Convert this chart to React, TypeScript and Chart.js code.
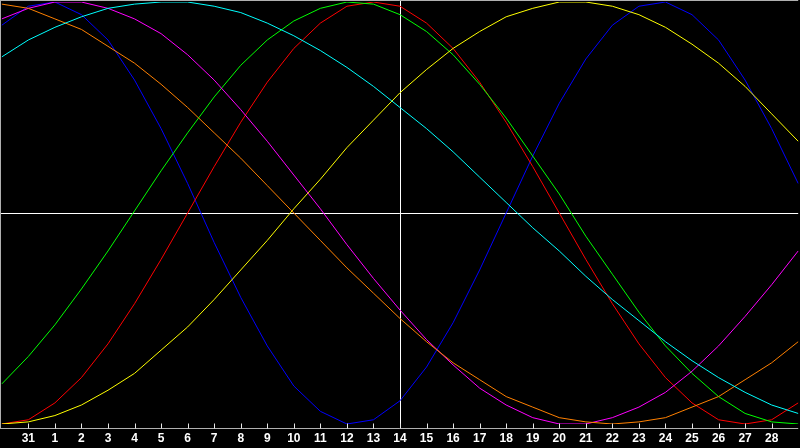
import { useEffect, useRef } from "react";
import { Chart, registerables } from "chart.js";

Chart.register(...registerables);

// day labels, first and last are outside the visible ticks
const days = ["30", "31", "1", "2", "3", "4", "5", "6", "7", "8", "9", "10", "11", "12", "13", "14", "15", "16", "17", "18", "19", "20", "21", "22", "23", "24", "25", "26", "27", "28", "29"];

const blue = [89, 98, 100, 94, 82, 63, 40, 14, -14, -40, -63, -82, -94, -100, -98, -89, -73, -52, -27, 0, 27, 52, 73, 89, 98, 100, 94, 82, 63, 40, 14];
const red = [-100, -98, -90, -78, -62, -43, -22, 0, 22, 43, 62, 78, 90, 98, 100, 98, 90, 78, 62, 43, 22, 0, -22, -43, -62, -78, -90, -98, -100, -98, -90];
const green = [-81, -68, -53, -36, -18, 1, 20, 38, 55, 70, 82, 91, 97, 100, 99, 94, 86, 75, 61, 45, 27, 9, -11, -29, -47, -63, -76, -87, -95, -99, -100];
const yellow = [-100, -99, -96, -91, -84, -76, -65, -54, -41, -27, -13, 2, 16, 31, 44, 57, 68, 78, 86, 93, 97, 100, 100, 98, 94, 88, 80, 71, 60, 47, 34];
const cyan = [74, 82, 88, 93, 97, 99, 100, 100, 98, 95, 90, 84, 77, 69, 60, 50, 40, 29, 17, 5, -7, -18, -30, -41, -51, -61, -70, -78, -85, -91, -95];
const magenta = [92, 97, 100, 100, 97, 92, 85, 75, 63, 49, 34, 18, 2, -15, -31, -46, -60, -72, -83, -91, -97, -100, -100, -97, -92, -85, -75, -63, -49, -34, -18];
const orange = [99, 97, 92, 87, 79, 71, 61, 50, 38, 26, 13, 0, -13, -26, -38, -50, -61, -71, -79, -87, -92, -97, -99, -100, -99, -97, -92, -87, -79, -71, -61];

const todayIndex = 15; // "14"

const frame = {
  id: "frame",
  beforeDraw(chart: any) {
    const { ctx, width, height } = chart;
    ctx.save();
    ctx.fillStyle = "#000";
    ctx.fillRect(0, 0, width, height);
    ctx.restore();
  },
  beforeDatasetsDraw(chart: any) {
    const { ctx, chartArea, scales } = chart;
    const x = scales.x;
    const y = scales.y;
    ctx.save();
    ctx.lineWidth = 1;
    ctx.strokeStyle = "#ffffff";
    const cx = Math.round(x.getPixelForValue(todayIndex)) + 0.5;
    const cy = Math.round(y.getPixelForValue(0)) + 0.5;
    ctx.beginPath();
    ctx.moveTo(cx, 0);
    ctx.lineTo(cx, chartArea.bottom + 4);
    ctx.moveTo(0, cy);
    ctx.lineTo(chartArea.right, cy);
    ctx.stroke();
    ctx.restore();
  },
  afterDraw(chart: any) {
    const { ctx, chartArea, scales } = chart;
    const x = scales.x;
    const axisY = chartArea.bottom + 4.5;
    ctx.save();
    ctx.lineWidth = 1;
    ctx.strokeStyle = "#b0b0b0";
    ctx.beginPath();
    ctx.moveTo(0, 0.5);
    ctx.lineTo(chartArea.right, 0.5);
    ctx.moveTo(0.5, 0);
    ctx.lineTo(0.5, axisY);
    ctx.moveTo(0, axisY);
    ctx.lineTo(chartArea.right, axisY);
    ctx.stroke();
    ctx.strokeStyle = "#e8e8e8";
    ctx.beginPath();
    for (let i = 1; i < days.length - 1; i++) {
      const px = Math.round(x.getPixelForValue(i)) + 0.5;
      ctx.moveTo(px, axisY - 5);
      ctx.lineTo(px, axisY);
    }
    ctx.stroke();
    ctx.restore();
  },
};

const series = [
  { data: cyan, color: "#00ffff" },
  { data: orange, color: "#ff8000" },
  { data: magenta, color: "#ff00ff" },
  { data: yellow, color: "#ffff00" },
  { data: green, color: "#00ff00" },
  { data: red, color: "#ff0000" },
  { data: blue, color: "#0000ff" },
];

export default function App() {
  const ref = useRef<HTMLCanvasElement | null>(null);
  useEffect(() => {
    document.body.style.margin = "0";
    document.body.style.background = "#000";
    if (!ref.current) return;
    const chart = new Chart(ref.current, {
      type: "line",
      data: {
        labels: days,
        datasets: series.map((s) => ({
          data: s.data,
          borderColor: s.color,
          borderWidth: 1,
          pointRadius: 0,
          tension: 0,
          fill: false,
        })),
      },
      options: {
        animation: false,
        responsive: true,
        maintainAspectRatio: false,
        layout: { padding: { top: 2, left: 0, right: 0, bottom: 0 } },
        plugins: { legend: { display: false }, tooltip: { enabled: false } },
        scales: {
          x: {
            type: "category",
            offset: false,
            border: { display: false },
            grid: { display: true, drawOnChartArea: false, drawTicks: true, tickLength: 6, color: "transparent" },
            ticks: {
              color: "#ffffff",
              autoSkip: false,
              maxRotation: 0,
              padding: 1.8,
              font: { family: "'Liberation Sans', Arial, sans-serif", size: 12, weight: "bold" },
              callback: (_v: any, i: number) => (i === 0 || i === days.length - 1 ? "" : days[i]),
            },
          },
          y: { display: false, min: -100, max: 100 },
        },
      },
      plugins: [frame],
    });
    return () => chart.destroy();
  }, []);

  return (
    <div style={{ width: 800, height: 448, position: "relative" }}>
      <canvas ref={ref}></canvas>
    </div>
  );
}
